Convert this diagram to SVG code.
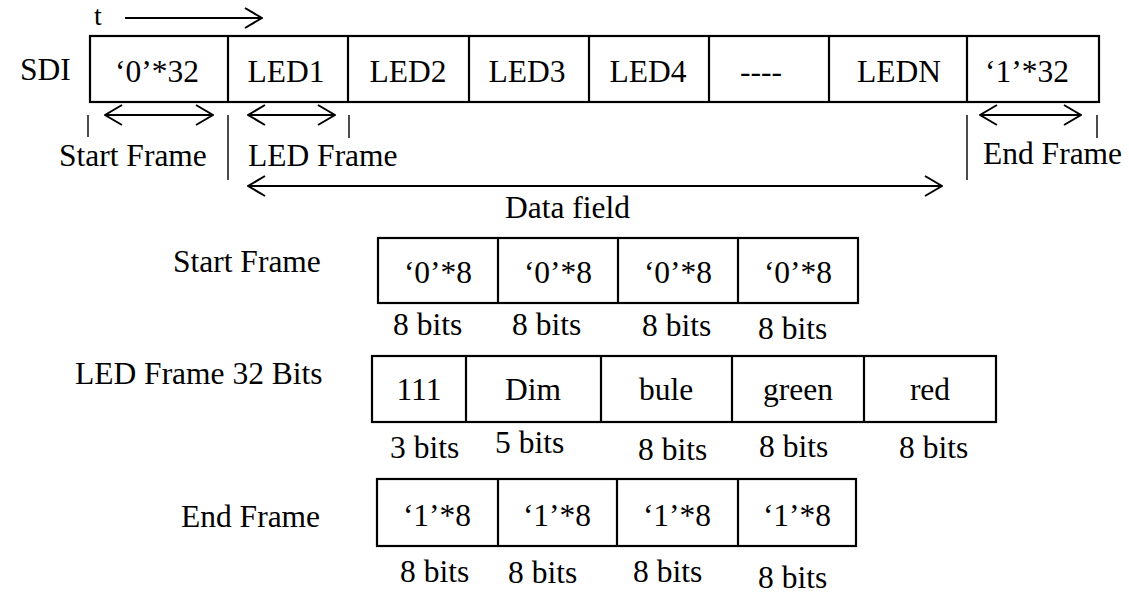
<svg xmlns="http://www.w3.org/2000/svg" width="1129" height="593" viewBox="0 0 1129 593">
<style>
text{font-family:"Liberation Serif","Times New Roman",Tinos,serif;font-size:31.5px;fill:#000}
.c{text-anchor:middle}
.box{fill:none;stroke:#000;stroke-width:2.2}
.ln{fill:none;stroke:#000;stroke-width:2}
.tk{fill:none;stroke:#000;stroke-width:1.4}
</style>
<defs>
<marker id="ah" viewBox="0 0 20 22" refX="19" refY="11" markerWidth="20" markerHeight="22" markerUnits="userSpaceOnUse" orient="auto-start-reverse">
<path d="M2,1 L19,11 L2,21" fill="none" stroke="#000" stroke-width="2"/>
</marker>
</defs>
<rect width="1129" height="593" fill="#fff"/>
<g id="labels">
<text x="94" y="25" style="font-size:28px">t</text>
<text x="20" y="80">SDI</text>
<text x="59" y="166">Start Frame</text>
<text x="248" y="166">LED Frame</text>
<text x="983" y="164">End Frame</text>
<text x="505" y="218">Data field</text>
<text x="173" y="272">Start Frame</text>
<text x="75" y="384">LED Frame 32 Bits</text>
<text x="181" y="527">End Frame</text>
</g>
<g id="sdi-row">
<rect class="box" x="90" y="36" width="1009" height="66"/>
<path class="box" d="M228,36V102M348,36V102M469,36V102M589,36V102M709,36V102M829,36V102M967,36V102"/>
<text class="c" x="157" y="82">‘0’*32</text>
<text class="c" x="286" y="82">LED1</text>
<text class="c" x="408" y="82">LED2</text>
<text class="c" x="527" y="82">LED3</text>
<text class="c" x="648" y="82">LED4</text>
<text class="c" x="761" y="82">----</text>
<text class="c" x="899" y="82">LEDN</text>
<text class="c" x="1027" y="82">‘1’*32</text>
</g>
<g id="start-frame">
<rect class="box" x="378" y="238" width="480" height="65"/>
<path class="box" d="M498,238V303M618,238V303M738,238V303"/>
<text class="c" x="438" y="283">‘0’*8</text>
<text class="c" x="558" y="283">‘0’*8</text>
<text class="c" x="678" y="283">‘0’*8</text>
<text class="c" x="798" y="283">‘0’*8</text>
<text x="393" y="335">8 bits</text>
<text x="512" y="335">8 bits</text>
<text x="642" y="336">8 bits</text>
<text x="758" y="339">8 bits</text>
</g>
<g id="led-frame">
<rect class="box" x="372" y="356" width="624" height="66"/>
<path class="box" d="M466,356V422M601,356V422M732,356V422M864,356V422"/>
<text class="c" x="419" y="400">111</text>
<text class="c" x="533" y="400">Dim</text>
<text class="c" x="666" y="400">bule</text>
<text class="c" x="798" y="400">green</text>
<text class="c" x="930" y="400">red</text>
<text x="390" y="458">3 bits</text>
<text x="495" y="453">5 bits</text>
<text x="638" y="460">8 bits</text>
<text x="759" y="457">8 bits</text>
<text x="899" y="458">8 bits</text>
</g>
<g id="end-frame">
<rect class="box" x="377" y="479" width="479" height="67"/>
<path class="box" d="M498,479V546M617,479V546M738,479V546"/>
<text class="c" x="437" y="526">‘1’*8</text>
<text class="c" x="557" y="526">‘1’*8</text>
<text class="c" x="677" y="526">‘1’*8</text>
<text class="c" x="797" y="526">‘1’*8</text>
<text x="400" y="582">8 bits</text>
<text x="508" y="583">8 bits</text>
<text x="633" y="582">8 bits</text>
<text x="758" y="588">8 bits</text>
</g>
<g id="connectors">
<line class="ln" x1="125" y1="18" x2="262" y2="18" marker-end="url(#ah)"/>
<line class="ln" x1="105" y1="115" x2="213" y2="115" marker-start="url(#ah)" marker-end="url(#ah)"/>
<line class="ln" x1="248" y1="115" x2="335" y2="115" marker-start="url(#ah)" marker-end="url(#ah)"/>
<line class="ln" x1="980" y1="115" x2="1081" y2="115" marker-start="url(#ah)" marker-end="url(#ah)"/>
<line class="ln" x1="248" y1="186" x2="942" y2="186" marker-start="url(#ah)" marker-end="url(#ah)"/>
<path class="tk" d="M88,115V137M228,115V180M349,115V138M967,115V180M1097,115V138"/>
</g>
</svg>
